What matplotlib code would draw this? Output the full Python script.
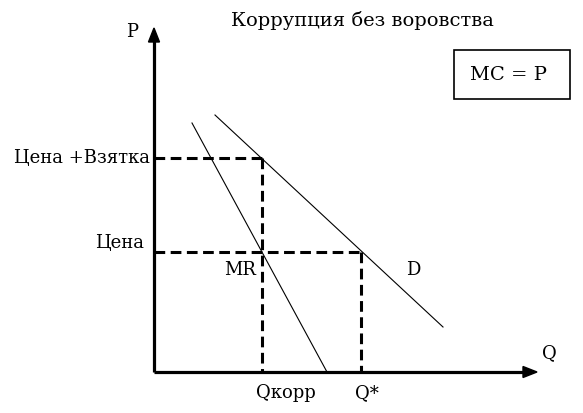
import matplotlib
matplotlib.use("Agg")
import matplotlib.pyplot as plt
from matplotlib.patches import FancyArrow, Rectangle

plt.rcParams['font.family'] = ['DejaVu Serif']

# curves in (Q, P) units, origin at the axis corner
demand_q = [61, 289]
demand_p = [257, 45]
mr_q = [38, 173]
mr_p = [249, 0]

price_levels = [214, 120]
price_labels = ['Цена +Взятка', 'Цена']
quantities = [108, 207]
quantity_labels = ['Qкорр', 'Q*']

title = 'Коррупция без воровства'
fs = 13

fig = plt.figure(figsize=(5.83, 4.13), dpi=100)
ax = fig.add_axes([0, 0, 1, 1])
ax.set_xlim(-154, 429)
ax.set_ylim(-41, 372)
ax.axis('off')

# axes with arrows
ax.plot([0, 0], [0, 332], color='black', lw=2.3, solid_capstyle='butt')
ax.plot([0, 371], [0, 0], color='black', lw=2.3, solid_capstyle='butt')
ax.add_patch(FancyArrow(0, 330, 0, 14, width=0, head_width=11, head_length=14,
                        length_includes_head=True, color='black'))
ax.add_patch(FancyArrow(369, 0, 14, 0, width=0, head_width=11, head_length=14,
                        length_includes_head=True, color='black'))
ax.text(-22, 340, 'P', fontsize=fs, ha='center', va='center')
ax.text(395, 19, 'Q', fontsize=fs, ha='center', va='center')

# demand and marginal revenue
ax.plot(demand_q, demand_p, color='black', lw=0.8)
ax.plot(mr_q, mr_p, color='black', lw=0.8)
ax.text(259, 102, 'D', fontsize=fs, ha='center', va='center')
ax.text(86, 102, 'MR', fontsize=fs, ha='center', va='center')

# dashed guide lines
for p, q in zip(price_levels, quantities):
    ax.plot([0, q], [p, p], color='black', lw=2.2, ls=(0, (3.5, 1.8)))
    ax.plot([q, q], [p, 0], color='black', lw=2.2, ls=(0, (3.5, 1.8)))

ax.text(-4, price_levels[0], price_labels[0], fontsize=fs, ha='right', va='center')
ax.text(-10, price_levels[1] + 9, price_labels[1], fontsize=fs, ha='right', va='center')

ax.text(quantities[0] + 24, -21, quantity_labels[0], fontsize=fs, ha='center', va='center')
ax.text(quantities[1] + 6, -21, quantity_labels[1], fontsize=fs, ha='center', va='center')

ax.text(208, 352, title, fontsize=14, ha='center', va='center')

# MC = P box
ax.add_patch(Rectangle((300, 273), 116, 49, fc='white', ec='black', lw=1.2))
ax.text(354, 297, 'MC = P', fontsize=14, ha='center', va='center')

fig.savefig('out.png', dpi=100)
